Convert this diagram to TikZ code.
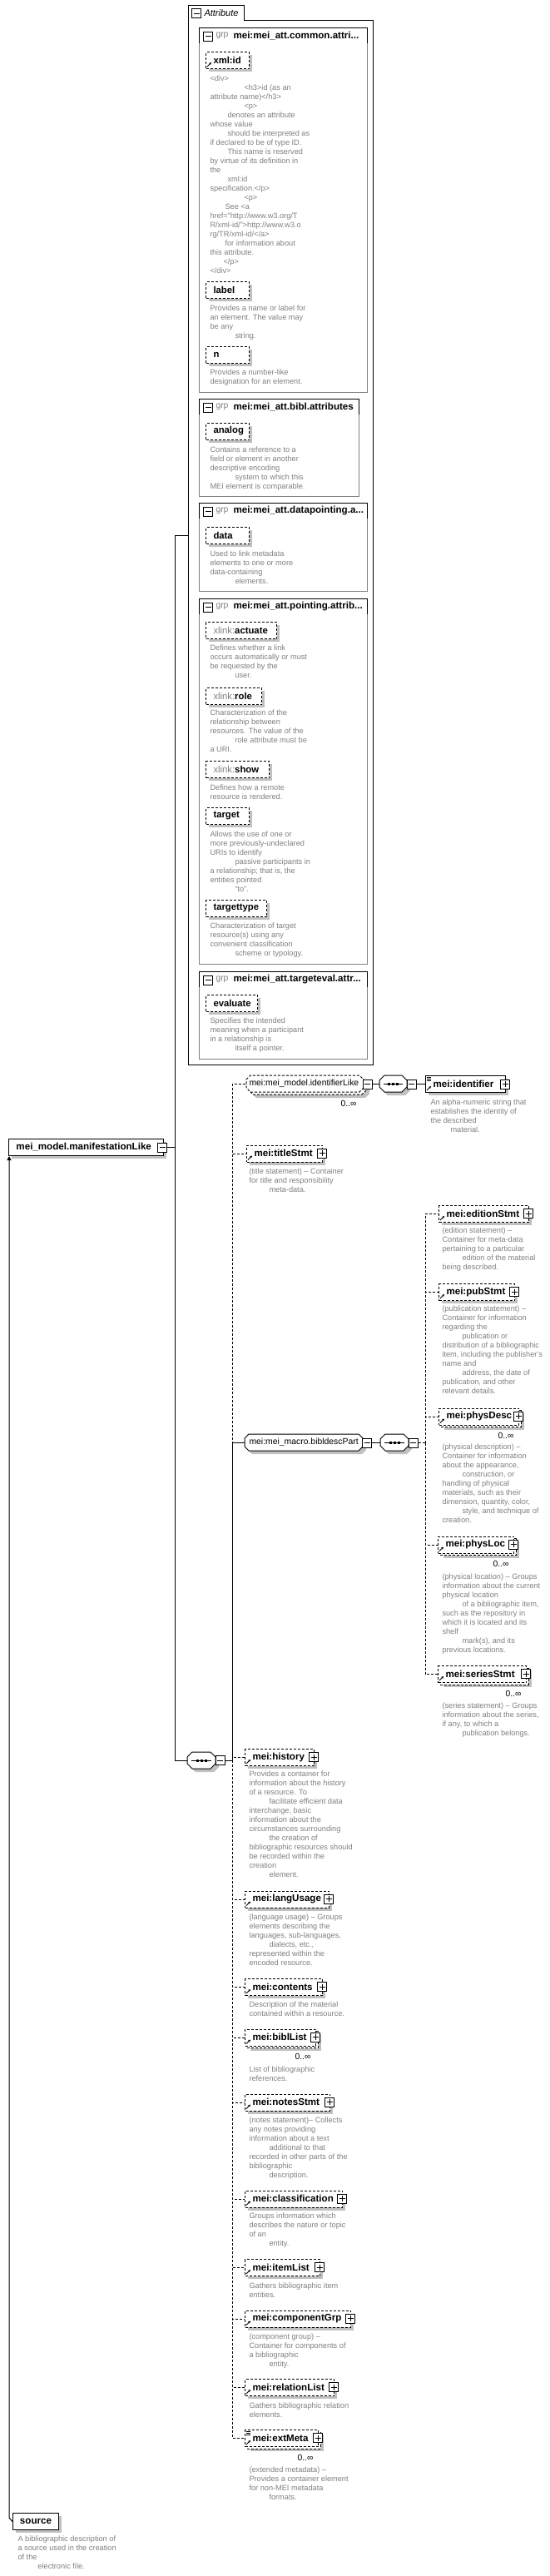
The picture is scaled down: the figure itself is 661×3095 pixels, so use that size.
\documentclass[tikz,border=0pt]{standalone}
\usepackage{fontspec}
\setmainfont{Liberation Sans}
\usetikzlibrary{arrows.meta}
\definecolor{txtgray}{RGB}{128,128,128}
\definecolor{shadgray}{RGB}{192,192,192}
\definecolor{boxgray}{RGB}{128,128,128}
\newcommand\indE{\hspace*{24pt}}
\newcommand\indA{\hspace*{30pt}}
\newcommand\XL{{\mdseries\color{txtgray}xlink:}}
\tikzset{
 dsh/.style={dash pattern=on 3pt off 2pt},
 desc/.style={font=\fontsize{9.2}{11}\selectfont, text=txtgray, align=left, inner sep=0pt, anchor=north west},
 elab/.style={font=\fontsize{11.6}{13}\selectfont\bfseries, inner sep=0pt, anchor=west},
 alab/.style={font=\fontsize{11.3}{13}\selectfont\bfseries, inner sep=0pt, anchor=west},
 glab/.style={font=\fontsize{10.4}{12}\selectfont, inner sep=0pt, anchor=west},
 multlab/.style={font=\fontsize{10.4}{12}\selectfont, inner sep=0pt, anchor=east},
 frame/.style={inner sep=0pt, anchor=north west, fill=white, draw=black, line width=1pt},
 ghost/.style={inner sep=0pt, anchor=north west},
 pmbox/.style={draw=black, solid, fill=white, minimum size=11pt, inner sep=0pt, line width=1pt},
 minusbox/.style={pmbox, path picture={\draw[line width=1pt] ([xshift=2pt]path picture bounding box.west) -- ([xshift=-2pt]path picture bounding box.east);}},
 plusbox/.style={pmbox, path picture={\draw[line width=1pt] ([xshift=2pt]path picture bounding box.west) -- ([xshift=-2pt]path picture bounding box.east) ([yshift=-2pt]path picture bounding box.north) -- ([yshift=2pt]path picture bounding box.south);}},
}
% description text: id, x, y of first line centre, text
\newcommand\DescAt[4]{\node[desc] (#1) at (#2,#3-5.3) {\strut #4};}
% reference arrow icon: x1, y2
\newcommand\RefArr[2]{\draw[solid,line width=0.9pt,-{Stealth[length=3pt,width=3pt]}] (#1+2,#2-2) -- (#1+7,#2-7);}
% content icon: x1, y1
\newcommand\ContIco[2]{\draw[solid,line width=0.7pt] (#1+2,#2+2.5) -- ++(5,0) (#1+2,#2+4.5) -- ++(5,0) (#1+2,#2+6.5) -- ++(5,0);}
% element reference box: id, x1, yc, x2, label
\newcommand\ElRef[5]{%
 \fill[shadgray] (#2+4,#3-6) rectangle (#4+4,#3+14);
 \node[frame,dsh,minimum width=#4-#2,minimum height=20] (#1) at (#2,#3-10) {};
 \node[elab] (#1-t) at (#2+9,#3) {#5};
 \RefArr{#2}{#3+10}
 \node[plusbox] (#1-pm) at (#4,#3) {};
}
\newcommand\ElRefMul[5]{%
 \fill[shadgray] (#2+7,#3-4) rectangle (#4+7,#3+16);
 \draw[dsh,fill=white] (#2+3,#3-7) rectangle (#4+3,#3+13);
 \node[frame,dsh,minimum width=#4-#2,minimum height=20] (#1) at (#2,#3-10) {};
 \node[elab] (#1-t) at (#2+9,#3) {#5};
 \RefArr{#2}{#3+10}
 \node[plusbox] (#1-pm) at (#4,#3) {};
 \node[multlab] (#1-m) at (#4-5,#3+23.5) {0..∞};
}
% attribute box: id, x2, y1, label
\newcommand\AttBox[4]{%
 \fill[shadgray] (251,#3+4) rectangle (#2+4,#3+24);
 \node[frame,dsh,minimum width=#2-247,minimum height=20] (#1) at (247,#3) {};
 \node[alab] (#1-t) at (256,#3+10) {#4};
}
% attribute group: id, top, bottom, right, title
\newcommand\AttGrp[5]{%
 \node[ghost,minimum width=#4-239,minimum height=#3-#2] (#1) at (239,#2) {};
 \draw[boxgray] (239,#2) rectangle (#4,#3);
 \draw (239,#2+19) -- (239,#2) -- (#4,#2) -- (#4,#2+19);
 \node[minusbox] (#1-pm) at (250,#2+10.5) {};
 \node[glab,text=txtgray] (#1-k) at (259,#2+10) {grp};
 \node[elab] (#1-t) at (280,#2+10) {#5};
}
% octagon: id, x1, y1, x2, y2, style, chamfer
\newcommand\Octo[7]{%
 \node[ghost,minimum width=#4-#2,minimum height=#5-#3] (#1) at (#2,#3) {};
 \fill[shadgray,shift={(4,4)}] (#2,#3+#7) -- (#2+#7,#3) -- (#4-#7,#3) -- (#4,#3+#7) -- (#4,#5-#7) -- (#4-#7,#5) -- (#2+#7,#5) -- (#2,#5-#7) -- cycle;
 \draw[fill=white,#6] (#2,#3+#7) -- (#2+#7,#3) -- (#4-#7,#3) -- (#4,#3+#7) -- (#4,#5-#7) -- (#4-#7,#5) -- (#2+#7,#5) -- (#2,#5-#7) -- cycle;
}
% sequence symbol: x1, x2, yc
\newcommand\SeqSym[3]{%
 \draw[solid,line width=1pt] (#1+5,#3) -- (#2-5,#3);
 \foreach \dx in {-5,0,5} \fill ({(#1+#2)/2+\dx-1.5},#3-1.5) rectangle ++(3,3);
}
\begin{document}
\begin{tikzpicture}[x=1pt,y=-1pt,line width=1pt]
\useasboundingbox (0,0) rectangle (661,3095);
\fill[white] (0,0) rectangle (661,3095);

% ---------------- Attribute container ----------------
\node[ghost,minimum width=222,minimum height=1273] (attr) at (226,6) {};
\draw (226,1279) -- (226,6) -- (293,6) -- (293,24) -- (448,24) -- (448,1279) -- cycle;
\node[minusbox] (attr-pm) at (236,16) {};
\node[glab,font=\fontsize{11}{13}\selectfont\itshape] (attr-t) at (245,15.5) {Attribute};

\AttGrp{g1}{33}{471}{441}{mei:mei\_att.common.attri...}
\AttBox{xmlid}{299}{62}{xml:id}
\RefArr{247}{82}
\DescAt{xmlid-d}{252}{95}{<div>\\
\hspace*{41pt}<h3>id (as an\\
attribute name)</h3>\\
\hspace*{41pt}<p>\\
\hspace*{21pt}denotes an attribute\\
whose value\\
\hspace*{21pt}should be interpreted as\\
if declared to be of type ID.\\
\hspace*{21pt}This name is reserved\\
by virtue of its definition in\\
the\\
\hspace*{21pt}xml:id\\
specification.</p>\\
\hspace*{41pt}<p>\\
\hspace*{18pt}See <a\\
href="http://www.w3.org/T\\
R/xml-id/">http://www.w3.o\\
rg/TR/xml-id/</a>\\
\hspace*{18pt}for information about\\
this attribute.\\
\hspace*{16pt}</p>\\
</div>}
\AttBox{label}{299}{338}{label}
\DescAt{label-d}{252}{371}{Provides a name or label for\\an element. The value may\\be any\\\indA string.}
\AttBox{nattr}{299}{416}{n}
\DescAt{nattr-d}{252}{448}{Provides a number-like\\designation for an element.}

\AttGrp{g2}{479}{596}{431}{mei:mei\_att.bibl.attributes}
\AttBox{analog}{299}{508}{analog}
\DescAt{analog-d}{252}{541}{Contains a reference to a\\field or element in another\\descriptive encoding\\\indA system to which this\\MEI element is comparable.}

\AttGrp{g3}{604}{710}{441}{mei:mei\_att.datapointing.a...}
\AttBox{data}{299}{633}{data}
\DescAt{data-d}{252}{666}{Used to link metadata\\elements to one or more\\data-containing\\\indA elements.}

\AttGrp{g4}{719}{1158}{441}{mei:mei\_att.pointing.attrib...}
\AttBox{actuate}{332}{747}{\XL actuate}
\DescAt{actuate-d}{252}{779}{Defines whether a link\\occurs automatically or must\\be requested by the\\\indA user.}
\AttBox{role}{314}{826}{\XL role}
\DescAt{role-d}{252}{857}{Characterization of the\\relationship between\\resources. The value of the\\\indA role attribute must be\\a URI.}
\AttBox{show}{323}{914}{\XL show}
\DescAt{show-d}{252}{947}{Defines how a remote\\resource is rendered.}
\AttBox{target}{299}{970}{target}
\DescAt{target-d}{252}{1003}{Allows the use of one or\\more previously-undeclared\\URIs to identify\\\indA passive participants in\\a relationship; that is, the\\entities pointed\\\indA "to".}
\AttBox{ttype}{320}{1081}{targettype}
\DescAt{ttype-d}{252}{1113}{Characterization of target\\resource(s) using any\\convenient classification\\\indA scheme or typology.}

\AttGrp{g5}{1167}{1272}{441}{mei:mei\_att.targeteval.attr...}
\AttBox{evaluate}{309}{1195}{evaluate}
\DescAt{evaluate-d}{252}{1227}{Specifies the intended\\meaning when a participant\\in a relationship is\\\indA itself a pointer.}

% ---------------- main element ----------------
\fill[shadgray] (14,1372) rectangle (200,1392);
\node[frame,minimum width=186,minimum height=20] (mlike) at (10,1368) {};
\node[elab] (mlike-t) at (19,1378) {mei\_model.manifestationLike};
\node[minusbox] (mlike-pm) at (195,1378.5) {};

% sequence 1
\Octo{seq1}{225}{2105}{259}{2125}{solid}{6}
\SeqSym{225}{259}{2115}
\node[minusbox] (seq1-pm) at (264.5,2115) {};

% identifierLike group
\fill[shadgray,shift={(7,7)}] (296,1297) -- (301,1292) -- (432,1292) -- (437,1297) -- (437,1307) -- (432,1312) -- (301,1312) -- (296,1307) -- cycle;
\draw[dsh,fill=white,shift={(3,3)}] (296,1297) -- (301,1292) -- (432,1292) -- (437,1297) -- (437,1307) -- (432,1312) -- (301,1312) -- (296,1307) -- cycle;
\node[ghost,minimum width=141,minimum height=20] (identLike) at (296,1292) {};
\draw[dsh,fill=white] (296,1297) -- (301,1292) -- (432,1292) -- (437,1297) -- (437,1307) -- (432,1312) -- (301,1312) -- (296,1307) -- cycle;
\node[glab] (identLike-t) at (299,1302) {mei:mei\_model.identifierLike};
\node[minusbox] (identLike-pm) at (441.5,1302.5) {};
\node[multlab] (identLike-m) at (429,1326) {0..∞};

\Octo{seq2}{456}{1292}{489}{1312}{solid}{6}
\SeqSym{456}{489}{1302}
\node[minusbox] (seq2-pm) at (494.5,1302.5) {};

\fill[shadgray] (515,1296) rectangle (611,1316);
\node[frame,minimum width=96,minimum height=20] (identifier) at (511,1292) {};
\node[elab] (identifier-t) at (520,1302) {mei:identifier};
\ContIco{511}{1292}
\RefArr{511}{1312}
\node[plusbox] (identifier-pm) at (607,1302.5) {};
\DescAt{identifier-d}{517}{1325}{An alpha-numeric string that\\establishes the identity of\\the described\\\indE material.}

% titleStmt
\ElRef{titleStmt}{296}{1385.5}{387}{mei:titleStmt}
\DescAt{titleStmt-d}{299}{1408}{(title statement) – Container\\for title and responsibility\\\indE meta-data.}

% biblDescPart group
\Octo{bibl}{294}{1723}{436}{1743}{solid}{5}
\node[glab] (bibl-t) at (299,1733) {mei:mei\_macro.bibldescPart};
\node[minusbox] (bibl-pm) at (441,1733.5) {};
\Octo{seq3}{457}{1723}{491}{1743}{solid}{6}
\SeqSym{457}{491}{1733}
\node[minusbox] (seq3-pm) at (496.5,1733.5) {};

\ElRef{edition}{527}{1458}{635}{mei:editionStmt}
\DescAt{edition-d}{531}{1479}{(edition statement) –\\Container for meta-data\\pertaining to a particular\\\indE edition of the material\\being described.}
\ElRef{pubStmt}{527}{1552}{618}{mei:pubStmt}
\DescAt{pubStmt-d}{531}{1573}{(publication statement) –\\Container for information\\regarding the\\\indE publication or\\distribution of a bibliographic\\item, including the publisher's\\name and\\\indE address, the date of\\publication, and other\\relevant details.}
\ElRefMul{physDesc}{527}{1701.5}{623}{mei:physDesc}
\DescAt{physDesc-d}{531}{1739}{(physical description) –\\Container for information\\about the appearance,\\\indE construction, or\\handling of physical\\materials, such as their\\dimension, quantity, color,\\\indE style, and technique of\\creation.}
\ElRefMul{physLoc}{526}{1855.5}{617}{mei:physLoc}
\DescAt{physLoc-d}{531}{1895}{(physical location) – Groups\\information about the current\\physical location\\\indE of a bibliographic item,\\such as the repository in\\which it is located and its\\shelf\\\indE mark(s), and its\\previous locations.}
\ElRefMul{series}{526}{2011}{632}{mei:seriesStmt}
\DescAt{series-d}{531}{2050}{(series statement) – Groups\\information about the series,\\if any, to which a\\\indE publication belongs.}

% children below
\ElRef{history}{294}{2111}{377}{mei:history}
\DescAt{history-d}{299}{2132}{Provides a container for\\information about the history\\of a resource. To\\\indE facilitate efficient data\\interchange, basic\\information about the\\circumstances surrounding\\\indE the creation of\\bibliographic resources should\\be recorded within the\\creation\\\indE element.}
\ElRef{langUsage}{294}{2281.5}{395}{mei:langUsage}
\DescAt{langUsage-d}{299}{2304}{(language usage) – Groups\\elements describing the\\languages, sub-languages,\\\indE dialects, etc.,\\represented within the\\encoded resource.}
\ElRef{contents}{294}{2387}{387}{mei:contents}
\DescAt{contents-d}{299}{2409}{Description of the material\\contained within a resource.}
\ElRefMul{biblList}{294}{2447.5}{379}{mei:biblList}
\DescAt{biblList-d}{299}{2487}{List of bibliographic\\references.}
\ElRef{notesStmt}{294}{2525.5}{396}{mei:notesStmt}
\DescAt{notesStmt-d}{299}{2548}{(notes statement)– Collects\\any notes providing\\information about a text\\\indE additional to that\\recorded in other parts of the\\bibliographic\\\indE description.}
\ElRef{classif}{294}{2641.5}{411}{mei:classification}
\DescAt{classif-d}{299}{2663}{Groups information which\\describes the nature or topic\\of an\\\indE entity.}
\ElRef{itemList}{294}{2724}{384}{mei:itemList}
\DescAt{itemList-d}{299}{2747}{Gathers bibliographic item\\entities.}
\ElRef{compGrp}{294}{2785.5}{421}{mei:componentGrp}
\DescAt{compGrp-d}{299}{2808}{(component group) –\\Container for components of\\a bibliographic\\\indE entity.}
\ElRef{relList}{294}{2868}{401}{mei:relationList}
\DescAt{relList-d}{299}{2891}{Gathers bibliographic relation\\elements.}
\ElRefMul{extMeta}{294}{2929}{382}{mei:extMeta}
\ContIco{294}{2919}
\DescAt{extMeta-d}{299}{2968}{(extended metadata) –\\Provides a container element\\for non-MEI metadata\\\indE formats.}

% source
\fill[shadgray] (19,3023) rectangle (74,3043);
\node[frame,minimum width=55,minimum height=20] (source) at (15,3019) {};
\node[elab,anchor=center] (source-t) at (source.center) {source};
\DescAt{source-d}{21}{3051}{A bibliographic description of\\a source used in the creation\\of the\\\indE electronic file.}

% ---------------- connectors ----------------
\coordinate (sp0) at (210,1378.5);
\coordinate (sp1) at (279,2115);
\coordinate (sp2) at (511,1733.5);
\coordinate (bend) at (11,3025);
\draw (mlike-pm.east) -- (sp0);
\draw (sp0) |- (attr.west);
\draw (sp0) |- (seq1.west);
\draw (seq1-pm.east) -- (sp1);
\draw (sp1) |- (bibl.west);
\draw[dsh] (sp1) |- (identLike.west);
\draw[dsh] (sp1) |- (titleStmt.west);
\draw[dsh] (sp1) |- (history.west);
\draw[dsh] (sp1) |- (langUsage.west);
\draw[dsh] (sp1) |- (contents.west);
\draw[dsh] (sp1) |- (biblList.west);
\draw[dsh] (sp1) |- (notesStmt.west);
\draw[dsh] (sp1) |- (classif.west);
\draw[dsh] (sp1) |- (itemList.west);
\draw[dsh] (sp1) |- (compGrp.west);
\draw[dsh] (sp1) |- (relList.west);
\draw[dsh] (sp1) |- (extMeta.west);
\draw (identLike-pm.east) -- (seq2.west);
\draw (seq2-pm.east) -- (identifier.west);
\draw (bibl-pm.east) -- (seq3.west);
\draw[dsh] (seq3-pm.east) -- (sp2);
\draw[dsh] (sp2) |- (edition.west);
\draw[dsh] (sp2) |- (pubStmt.west);
\draw[dsh] (sp2) |- (physDesc.west);
\draw[dsh] (sp2) |- (physLoc.west);
\draw[dsh] (sp2) |- (series.west);
\draw[-{Triangle[length=5pt,width=5pt]}] (source.west) -- (bend) -- (bend |- mlike.south);
\end{tikzpicture}
\end{document}
